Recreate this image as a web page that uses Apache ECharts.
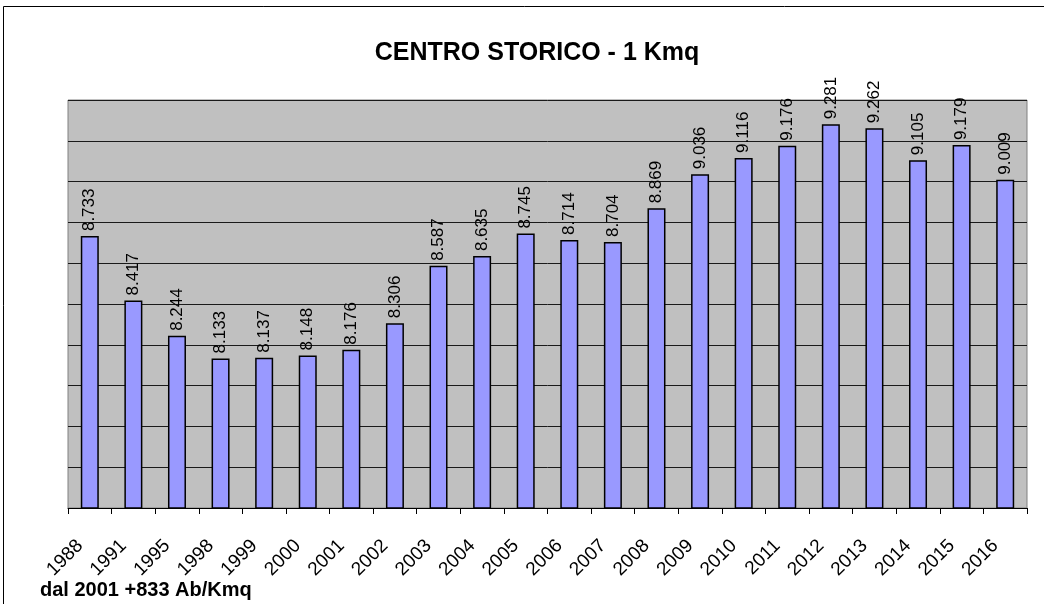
<!DOCTYPE html>
<html>
<head>
<meta charset="utf-8">
<script src="https://cdn.jsdelivr.net/npm/echarts@6/dist/echarts.min.js"></script>
<style>html,body{margin:0;padding:0;background:#fff;}#c{width:1044px;height:604px;}</style>
</head>
<body>
<div id="c"></div>
<script>
const years = ['1988','1991','1995','1998','1999','2000','2001','2002','2003','2004','2005','2006','2007','2008','2009','2010','2011','2012','2013','2014','2015','2016'];
const residents = [8733,8417,8244,8133,8137,8148,8176,8306,8587,8635,8745,8714,8704,8869,9036,9116,9176,9281,9262,9105,9179,9009];
const axisMin = 7400, axisMax = 9400, axisStep = 200;
const titleText = 'CENTRO STORICO - 1 Kmq';
const noteText = 'dal 2001 +833 Ab/Kmq';

const chart = echarts.init(document.getElementById('c'), null, {renderer:'canvas'});
chart.setOption({
  animation:false,
  backgroundColor:'#fff',
  title:{text:titleText,left:532,top:36,textAlign:'center',
    textStyle:{fontFamily:'Arial, Liberation Sans',fontSize:25,fontWeight:'bold',color:'#000'}},
  graphic:[
    {type:'rect',shape:{x:3.5,y:6.5,width:1100,height:700},style:{fill:null,stroke:'#000',lineWidth:1},z:-10},
    {type:'text',left:40,top:580,style:{text:noteText,font:'bold 20px Arial, Liberation Sans',fill:'#000'}}
  ],
  grid:{left:68,right:17,top:100,bottom:96,show:true,backgroundColor:'#C0C0C0',borderColor:'#808080',borderWidth:1},
  xAxis:{type:'category',data:years,
    axisLine:{show:true,lineStyle:{color:'#000',width:1}},
    axisTick:{show:true,alignWithLabel:false,length:6,lineStyle:{color:'#000'}},
    axisLabel:{rotate:45,interval:0,margin:25,padding:[0,14,0,0],fontFamily:'Arial, Liberation Sans',fontSize:19,color:'#000'}},
  yAxis:{type:'value',min:axisMin,max:axisMax,interval:axisStep,
    axisLine:{show:false},axisTick:{show:false},axisLabel:{show:false},
    splitLine:{show:true,lineStyle:{color:'#1a1a1a',width:1}}},
  series:[{type:'bar',data:residents,barWidth:18,
    itemStyle:{color:'#9999FF',borderColor:'#000',borderWidth:1.5},
    label:{show:true,position:'top',rotate:90,align:'left',verticalAlign:'middle',distance:5,
      fontFamily:'Arial, Liberation Sans',fontSize:17,color:'#000',
      formatter:p=>(p.value/1000).toFixed(3)}}]
});
</script>
</body>
</html>
